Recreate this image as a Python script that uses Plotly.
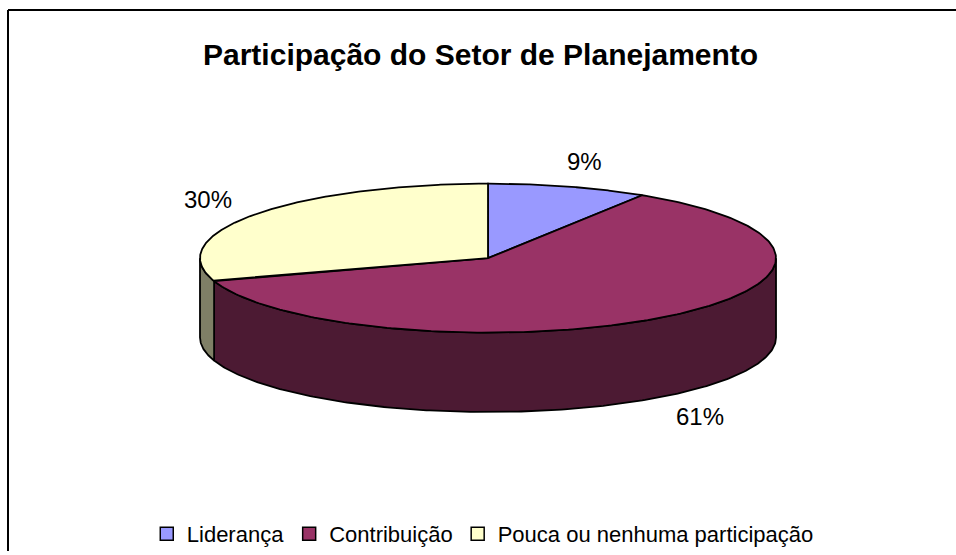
import numpy as np
import plotly.graph_objects as go

# ---- data ----
categories = ["Liderança", "Contribuição", "Pouca ou nenhuma participação"]
values = [9, 61, 30]
title_text = "Participação do Setor de Planejamento"

# ---- styles ----
colors_top = ["#9999FF", "#993366", "#FFFFCC"]
colors_side = ["#4C4C80", "#4C1A33", "#7F7F66"]
FONT = "Liberation Sans, Arial, sans-serif"

W, H = 956, 555
cx, cy, rx, ry, depth = 488, 260, 288, 75, 80


def arc(a0, a1, dy=0.0, n=240):
    t = np.radians(np.linspace(a0, a1, n))
    return cx + rx * np.sin(t), cy - ry * np.cos(t) + dy


fig = go.Figure()

total = float(sum(values))
fracs = [v / total for v in values]
starts = np.concatenate([[0], np.cumsum(fracs)[:-1]]) * 360
ends = np.cumsum(fracs) * 360

# side walls (front half only: angles 90..270)
for i in range(len(values)):
    a0, a1 = max(starts[i], 90), min(ends[i], 270)
    if a1 > a0:
        xt, yt = arc(a0, a1)
        xb, yb = arc(a0, a1, depth)
        xs = np.concatenate([xt, xb[::-1], xt[:1]])
        ys = np.concatenate([yt, yb[::-1], yt[:1]])
        fig.add_trace(go.Scatter(x=xs, y=ys, mode="lines", fill="toself",
                                 fillcolor=colors_side[i],
                                 line=dict(color="black", width=1.8),
                                 showlegend=False, hoverinfo="skip"))

# top faces
for i in range(len(values)):
    xa, ya = arc(starts[i], ends[i])
    xs = np.concatenate([[cx], xa, [cx]])
    ys = np.concatenate([[cy], ya, [cy]])
    fig.add_trace(go.Scatter(x=xs, y=ys, mode="lines", fill="toself",
                             fillcolor=colors_top[i],
                             line=dict(color="black", width=1.8),
                             showlegend=False, hoverinfo="skip",
                             name=categories[i]))

# legend entries
for i, c in enumerate(categories):
    fig.add_trace(go.Scatter(x=[None], y=[None], mode="markers", name=c,
                             marker=dict(symbol="square", size=13, color=colors_top[i],
                                         line=dict(color="black", width=1.5))))

# percentage labels
annotations = []
for i in range(len(values)):
    mid = np.radians((starts[i] + ends[i]) / 2)
    lx = cx + rx * 1.2 * np.sin(mid)
    ly = cy - ry * 1.35 * np.cos(mid)
    if np.cos(mid) < 0:
        ly += depth
    annotations.append(dict(x=lx, y=ly, xref="x", yref="y",
                            text=f"{values[i]:.0f}%", showarrow=False,
                            font=dict(family=FONT, size=24, color="black")))

annotations.append(dict(x=480, y=55, xref="x", yref="y", text=f"<b>{title_text}</b>",
                        showarrow=False, font=dict(family=FONT, size=30, color="black")))

shapes = [
    dict(type="line", xref="x", yref="y", x0=8, y0=10, x1=W, y1=10,
         line=dict(color="black", width=2)),
    dict(type="line", xref="x", yref="y", x0=8, y0=10, x1=8, y1=H,
         line=dict(color="black", width=2)),
]

fig.update_layout(
    width=W, height=H,
    margin=dict(l=0, r=0, t=0, b=0),
    paper_bgcolor="white", plot_bgcolor="white",
    xaxis=dict(range=[0, W], visible=False, fixedrange=True),
    yaxis=dict(range=[H, 0], visible=False, fixedrange=True),
    annotations=annotations,
    shapes=shapes,
    showlegend=True,
    legend=dict(orientation="h", x=0.505, xanchor="center",
                y=1 - 538 / H, yanchor="middle",
                font=dict(family=FONT, size=22, color="black"), itemwidth=30,
                bgcolor="rgba(0,0,0,0)"),
)

fig.write_html("out.html", config={"displayModeBar": False},
               post_script="document.body.style.margin='0';document.body.style.overflow='hidden';")
